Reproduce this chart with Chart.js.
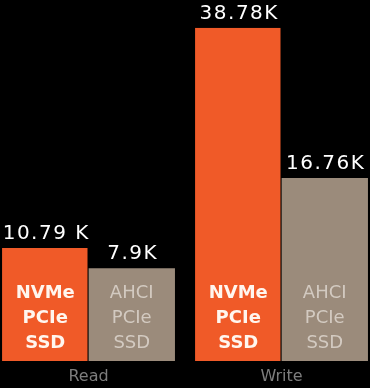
<!DOCTYPE html>
<html>
<head>
<meta charset="utf-8">
<script src="https://cdn.jsdelivr.net/npm/chart.js@4.4.1/dist/chart.umd.min.js"></script>
<style>
  html, body { margin: 0; padding: 0; background: #000; overflow: hidden; }
  #wrap { position: relative; width: 386px; height: 388px; margin-left: -8px; }
</style>
</head>
<body>
<div id="wrap"><canvas id="chart"></canvas></div>
<script>
const categories = ["Read", "Write"];
// bar heights as drawn in the picture (in K) - the artwork isn't to scale with its own labels
const nvmeValues = [13.15, 38.78];
const ahciValues = [10.8, 21.3];
const nvmeLabels = ["10.79 K", "38.78K"];
const ahciLabels = ["7.9K", "16.76K"];
const nvmeName = ["NVMe", "PCIe", "SSD"];
const ahciName = ["AHCI", "PCIe", "SSD"];

const ORANGE = "#f05a28";
const TAUPE = "#9b8b7b";

const barText = {
  id: "barText",
  afterDatasetsDraw(chart) {
    const ctx = chart.ctx;
    chart.data.datasets.forEach((ds, i) => {
      chart.getDatasetMeta(i).data.forEach((bar, j) => {
        ctx.save();
        ctx.textAlign = "center";
        ctx.textBaseline = "alphabetic";
        ctx.fillStyle = "#ffffff";
        ctx.font = "20px 'DejaVu Sans'";
        ctx.letterSpacing = "1.5px";
        ctx.fillText(ds.valueLabels[j], bar.x + 1, bar.y - 9);
        ctx.letterSpacing = "0px";
        ctx.font = ds.nameFont;
        ctx.fillStyle = ds.nameColor;
        ds.nameLines.forEach((line, k) => {
          ctx.fillText(line, bar.x, bar.base - 63 + k * 25);
        });
        ctx.restore();
      });
    });
  }
};

new Chart(document.getElementById("chart"), {
  type: "bar",
  data: {
    labels: categories,
    datasets: [
      {
        label: "NVMe PCIe SSD",
        data: nvmeValues,
        backgroundColor: ORANGE,
        borderColor: "#000",
        borderWidth: { top: 0, right: 1, bottom: 0, left: 0 },
        valueLabels: nvmeLabels,
        nameLines: nvmeName,
        nameFont: "bold 18px 'DejaVu Sans'",
        nameColor: "#fff6ef",
      },
      {
        label: "AHCI PCIe SSD",
        data: ahciValues,
        backgroundColor: TAUPE,
        borderWidth: 0,
        valueLabels: ahciLabels,
        nameLines: ahciName,
        nameFont: "18px 'DejaVu Sans'",
        nameColor: "#d3cac1",
      },
    ],
  },
  options: {
    responsive: true,
    maintainAspectRatio: false,
    animation: false,
    layout: { padding: { top: 0, left: 0, right: 0, bottom: -5 } },
    datasets: { bar: { categoryPercentage: 0.896, barPercentage: 1 } },
    plugins: { legend: { display: false }, tooltip: { enabled: false } },
    scales: {
      x: {
        grid: { display: false, drawTicks: false },
        border: { display: false },
        ticks: { color: "#7d7d7d", font: { family: "DejaVu Sans", size: 16 }, padding: 6.4 },
      },
      y: { display: false, min: 0, max: 42 },
    },
  },
  plugins: [barText],
});
</script>
</body>
</html>
